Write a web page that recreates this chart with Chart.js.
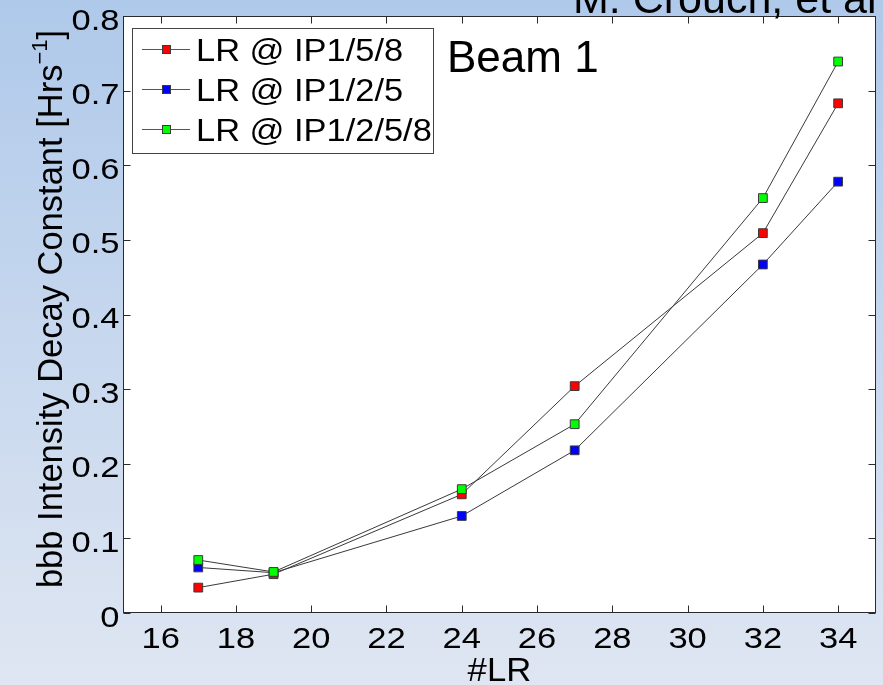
<!DOCTYPE html>
<html>
<head>
<meta charset="utf-8">
<title>bbb Intensity Decay Constant vs #LR</title>
<script src="https://cdn.jsdelivr.net/npm/chart.js@4/dist/chart.umd.min.js"></script>
<style>
  html, body { margin: 0; padding: 0; }
  body { width: 883px; height: 685px; overflow: hidden; }
  canvas { display: block; }
</style>
</head>
<body>
<canvas id="chart" width="883" height="685"></canvas>
<script>
// Number of long-range encounters
const lrCounts = [17, 19, 24, 27, 32, 34];
// Beam-beam intensity decay constant [1/h] per IP configuration
const decayIP158  = [0.034, 0.052, 0.159, 0.304, 0.509, 0.683];
const decayIP125  = [0.061, 0.054, 0.130, 0.218, 0.467, 0.578];
const decayIP1258 = [0.071, 0.055, 0.166, 0.253, 0.556, 0.739];
const seriesNames  = ['LR @ IP1/5/8', 'LR @ IP1/2/5', 'LR @ IP1/2/5/8'];
const seriesColors = ['#ff0000', '#0000ff', '#00ff00'];
const xTickValues = [16, 18, 20, 22, 24, 26, 28, 30, 32, 34];
const yTickValues = [0, 0.1, 0.2, 0.3, 0.4, 0.5, 0.6, 0.7, 0.8];
const xTickLabels = ['16', '18', '20', '22', '24', '26', '28', '30', '32', '34'];
const yTickLabels = ['0', '0.1', '0.2', '0.3', '0.4', '0.5', '0.6', '0.7', '0.8'];
const xTitle = '#LR';
const yTitleMain = 'bbb Intensity Decay Constant [Hrs';
const yTitleSup = '\u22121';
const yTitleEnd = ']';
const panelLabel = 'Beam 1';
const authorLabel = 'M. Crouch, et al';

const FONT = '"Liberation Sans", Arial, Helvetica, sans-serif';
const AXIS_COLOR = '#2b2b2b';

function drawText(ctx, text, x, y, o) {
  ctx.save();
  ctx.font = (o.size) + 'px ' + FONT;
  ctx.fillStyle = o.color || '#000';
  ctx.textAlign = o.align || 'left';
  ctx.textBaseline = 'alphabetic';
  ctx.translate(x, y);
  if (o.rotate) ctx.rotate(o.rotate);
  ctx.scale(o.sx || 1, o.sy || 1);
  ctx.fillText(text, 0, 0);
  ctx.restore();
}

const seriesValues = [decayIP158, decayIP125, decayIP1258];
const drawOrder = [1, 2, 0];

const datasets = seriesValues.map((vals, i) => ({
  label: seriesNames[i],
  data: lrCounts.map((x, j) => ({ x: x, y: vals[j] })),
  borderColor: '#3a3a3a',
  borderWidth: 1,
  pointStyle: 'rect',
  pointRadius: 6.2,
  pointHoverRadius: 6.2,
  pointBackgroundColor: seriesColors[i],
  pointBorderColor: '#3a3a3a',
  pointBorderWidth: 1,
  tension: 0,
  fill: false,
  order: drawOrder[i]
}));

const framePlugin = {
  id: 'frame',
  beforeDraw(chart) {
    const ctx = chart.ctx;
    const g = ctx.createLinearGradient(0, 0, 0, chart.height);
    g.addColorStop(0, '#afc9ea');
    g.addColorStop(1, '#dfe6f2');
    ctx.save();
    ctx.fillStyle = g;
    ctx.fillRect(0, 0, chart.width, chart.height);
    const a = chart.chartArea;
    ctx.fillStyle = '#ffffff';
    ctx.fillRect(a.left, a.top, a.right - a.left, a.bottom - a.top);
    ctx.restore();
  },
  beforeDatasetsDraw(chart) {
    const ctx = chart.ctx;
    const a = chart.chartArea;
    const xs = chart.scales.x, ys = chart.scales.y;
    const L = Math.round(a.left) + 0.5, R = Math.round(a.right) - 0.5;
    const T = Math.round(a.top) + 0.5, B = Math.round(a.bottom) - 0.5;
    const tl = 7;
    ctx.save();
    ctx.strokeStyle = AXIS_COLOR;
    ctx.lineWidth = 1;
    ctx.beginPath();
    xs.ticks.forEach(t => {
      const px = Math.round(xs.getPixelForValue(t.value)) + 0.5;
      ctx.moveTo(px, B); ctx.lineTo(px, B - tl);
      ctx.moveTo(px, T); ctx.lineTo(px, T + tl);
    });
    ys.ticks.forEach(t => {
      const py = Math.round(ys.getPixelForValue(t.value)) + 0.5;
      ctx.moveTo(L, py); ctx.lineTo(L + tl, py);
      ctx.moveTo(R, py); ctx.lineTo(R - tl, py);
    });
    ctx.stroke();
    ctx.strokeRect(L, T, R - L, B - T);
    ctx.restore();
  },
  afterDraw(chart) {
    const ctx = chart.ctx;
    const a = chart.chartArea;
    const xs = chart.scales.x, ys = chart.scales.y;

    // tick labels
    xs.ticks.forEach((t, i) => {
      drawText(ctx, xTickLabels[i], xs.getPixelForValue(t.value), 648,
        { size: 30, align: 'center', sx: 1.15 });
    });
    ys.ticks.forEach((t, i) => {
      drawText(ctx, yTickLabels[i], 119.5, ys.getPixelForValue(t.value) + 13.5,
        { size: 30, align: 'right', sx: 1.15 });
    });

    // axis titles
    drawText(ctx, xTitle, (a.left + a.right) / 2, 681, { size: 33, align: 'center', sx: 1.05 });

    ctx.save();
    const mainSize = 34.5, supSize = 22;
    ctx.font = mainSize + 'px ' + FONT;
    const w1 = ctx.measureText(yTitleMain).width;
    const w3 = ctx.measureText(yTitleEnd).width;
    ctx.font = supSize + 'px ' + FONT;
    const w2 = ctx.measureText(yTitleSup).width;
    const total = w1 + w2 + w3;
    const cy = 309, bx = 62;
    ctx.translate(bx, cy);
    ctx.rotate(-Math.PI / 2);
    ctx.fillStyle = '#000';
    ctx.textBaseline = 'alphabetic';
    ctx.textAlign = 'left';
    let s = -total / 2;
    ctx.font = mainSize + 'px ' + FONT;
    ctx.fillText(yTitleMain, s, 0);
    s += w1;
    ctx.font = supSize + 'px ' + FONT;
    ctx.fillText(yTitleSup, s, -15);
    s += w2;
    ctx.font = mainSize + 'px ' + FONT;
    ctx.fillText(yTitleEnd, s, 0);
    ctx.restore();

    // legend
    const lx = 132.5, ly = 28.5, lw = 301, lh = 125;
    ctx.save();
    ctx.fillStyle = '#ffffff';
    ctx.fillRect(lx, ly, lw, lh);
    ctx.strokeStyle = '#444';
    ctx.lineWidth = 1;
    ctx.strokeRect(lx, ly, lw, lh);
    seriesNames.forEach((name, i) => {
      const cyRow = 49.5 + i * 40;
      ctx.strokeStyle = '#555';
      ctx.beginPath();
      ctx.moveTo(142, cyRow); ctx.lineTo(190, cyRow);
      ctx.stroke();
      ctx.fillStyle = seriesColors[i];
      ctx.fillRect(162.5, cyRow - 4, 8, 8);
      ctx.strokeStyle = '#3a3a3a';
      ctx.strokeRect(162.5, cyRow - 4, 8, 8);
      drawText(ctx, name, 196, cyRow + 11, { size: 31, sx: 1.11 });
    });
    ctx.restore();

    // annotations
    drawText(ctx, panelLabel, 447, 71.5, { size: 44 });
    drawText(ctx, authorLabel, 573, 13, { size: 43 });
  }
};

new Chart(document.getElementById('chart'), {
  type: 'line',
  data: { datasets: datasets },
  options: {
    responsive: false,
    animation: false,
    devicePixelRatio: 1,
    layout: { padding: { top: 16, right: 6, left: 0, bottom: 0 } },
    plugins: { legend: { display: false }, tooltip: { enabled: false } },
    events: [],
    scales: {
      x: {
        type: 'linear',
        min: 15,
        max: 35,
        afterBuildTicks: s => { s.ticks = xTickValues.map(v => ({ value: v })); },
        afterFit: s => { s.height = 72; },
        ticks: { display: false },
        grid: { display: false },
        border: { display: false }
      },
      y: {
        type: 'linear',
        min: 0,
        max: 0.8,
        afterBuildTicks: s => { s.ticks = yTickValues.map(v => ({ value: v })); },
        afterFit: s => { s.width = 123; },
        ticks: { display: false },
        grid: { display: false },
        border: { display: false }
      }
    }
  },
  plugins: [framePlugin]
});
</script>
</body>
</html>
